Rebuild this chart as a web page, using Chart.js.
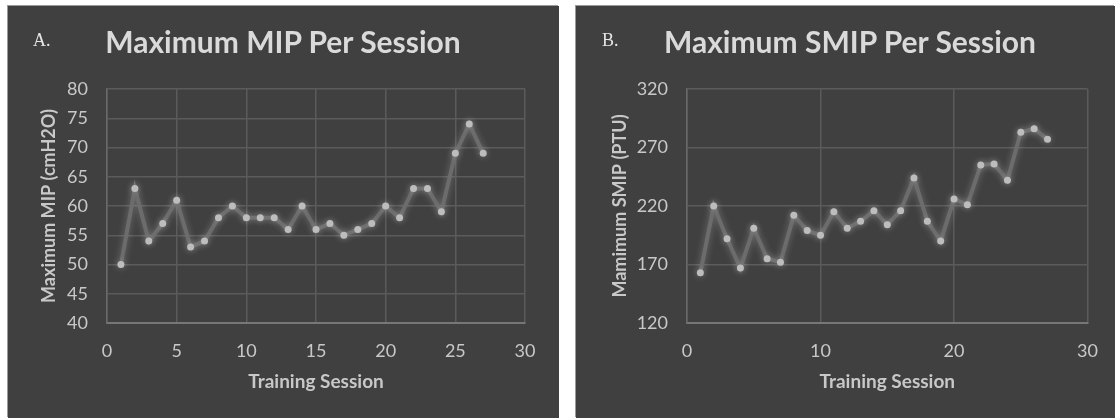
<!DOCTYPE html>
<html lang="en">
<head>
    <meta charset="UTF-8">
    <title>Maximum MIP / SMIP Per Session</title>
    <script src="https://cdn.jsdelivr.net/npm/chart.js"></script>
    <style>
        body {
            margin: 0;
            background: #ffffff;
            width: 1115px;
            height: 418px;
            position: relative;
            overflow: hidden;
            font-family: Lato, "Open Sans", sans-serif;
        }
        .panel {
            position: absolute;
            top: 6px;
            height: 412px;
            background: #404040;
            box-shadow: -1px -1px 0 #9a9a9a;
        }
        .panel canvas {
            position: absolute;
            left: 0;
            top: 0;
        }
        .label {
            position: absolute;
            top: 30px;
            font-family: "Liberation Serif", serif;
            font-size: 18px;
            color: #e6e6e6;
        }
        .title {
            position: absolute;
            top: 23px;
            font-weight: bold;
            font-size: 30px;
            color: #dadada;
            white-space: nowrap;
            transform: translateX(-50%);
        }
    </style>
</head>
<body>
    <div class="panel" id="panelA" style="left: 8px; width: 551px;">
        <canvas id="chartA" width="551" height="412"></canvas>
    </div>
    <div class="panel" id="panelB" style="left: 576px; width: 539px;">
        <canvas id="chartB" width="539" height="412"></canvas>
    </div>
    <div class="label" style="left: 33px;">A.</div>
    <div class="title" style="left: 283px;">Maximum MIP Per Session</div>
    <div class="label" style="left: 602px;">B.</div>
    <div class="title" style="left: 850px;">Maximum SMIP Per Session</div>

    <script>
        const sessions = [1, 2, 3, 4, 5, 6, 7, 8, 9, 10, 11, 12, 13, 14, 15, 16, 17, 18, 19, 20, 21, 22, 23, 24, 25, 26, 27];
        const mipValues = [50, 63, 54, 57, 61, 53, 54, 58, 60, 58, 58, 58, 56, 60, 56, 57, 55, 56, 57, 60, 58, 63, 63, 59, 69, 74, 69];
        const smipValues = [163, 220, 192, 167, 201, 175, 172, 212, 199, 195, 215, 201, 207, 216, 204, 216, 244, 207, 190, 226, 221, 255, 256, 242, 283, 286, 277];

        const mipTicks = [40, 45, 50, 55, 60, 65, 70, 75, 80];
        const smipTicks = [120, 170, 220, 270, 320];
        const mipSessionTicks = [0, 5, 10, 15, 20, 25, 30];
        const smipSessionTicks = [0, 10, 20, 30];

        const gridColor = '#5b5b5b';
        const textColor = '#c8c8c8';

        // soft glow around the markers
        const glow = {
            id: 'glow',
            beforeDatasetsDraw(chart) {
                chart.ctx.save();
                chart.ctx.shadowColor = 'rgba(255,255,255,0.28)';
                chart.ctx.shadowBlur = 7;
            },
            afterDatasetsDraw(chart) {
                chart.ctx.restore();
            }
        };

        function makeChart(id, yValues, yTicks, xTicks, yTitle, plotLeft, plotRight, yTitleOffset) {
            const points = sessions.map((s, i) => ({ x: s, y: yValues[i] }));
            return new Chart(document.getElementById(id), {
                type: 'scatter',
                data: {
                    datasets: [{
                        data: points,
                        showLine: true,
                        borderColor: '#6c6c6c',
                        borderWidth: 4,
                        pointRadius: 3.5,
                        pointBackgroundColor: '#bdbdbd',
                        pointBorderWidth: 0
                    }]
                },
                options: {
                    responsive: false,
                    animation: false,
                    layout: {
                        padding: { left: 0, right: plotRight, top: 83, bottom: 0 }
                    },
                    plugins: {
                        legend: { display: false },
                        tooltip: { enabled: false }
                    },
                    scales: {
                        x: {
                            type: 'linear',
                            min: xTicks[0],
                            max: xTicks[xTicks.length - 1],
                            afterBuildTicks: (scale) => { scale.ticks = xTicks.map(v => ({ value: v })); },
                            afterFit: (scale) => { scale.height = 95; },
                            grid: { color: gridColor, lineWidth: 1.5, drawTicks: false },
                            border: { color: '#777777', width: 2 },
                            ticks: { color: textColor, font: { family: 'Lato', size: 18 }, padding: 17 },
                            title: {
                                display: true,
                                text: 'Training Session',
                                color: textColor,
                                font: { family: 'Lato', size: 19, weight: 'bold' },
                                padding: { top: 0, bottom: 25 }
                            }
                        },
                        y: {
                            min: yTicks[0],
                            max: yTicks[yTicks.length - 1],
                            afterBuildTicks: (scale) => { scale.ticks = yTicks.map(v => ({ value: v })); },
                            afterFit: (scale) => { scale.width = plotLeft; },
                            grid: { color: gridColor, lineWidth: 1.5, drawTicks: false },
                            border: { color: '#6a6a6a', width: 1.5 },
                            ticks: { color: textColor, font: { family: 'Lato', size: 18 }, padding: 19 },
                            title: {
                                display: true,
                                text: yTitle,
                                color: textColor,
                                font: { family: 'Lato', size: 18, weight: 'bold' },
                                padding: { top: yTitleOffset, bottom: 0 }
                            }
                        }
                    }
                },
                plugins: [glow]
            });
        }

        makeChart('chartA', mipValues, mipTicks, mipSessionTicks, 'Maximum MIP (cmH2O)', 99, 34, 30);
        makeChart('chartB', smipValues, smipTicks, smipSessionTicks, 'Mamimum SMIP (PTU)', 111, 25, 33);
    </script>
</body>
</html>
